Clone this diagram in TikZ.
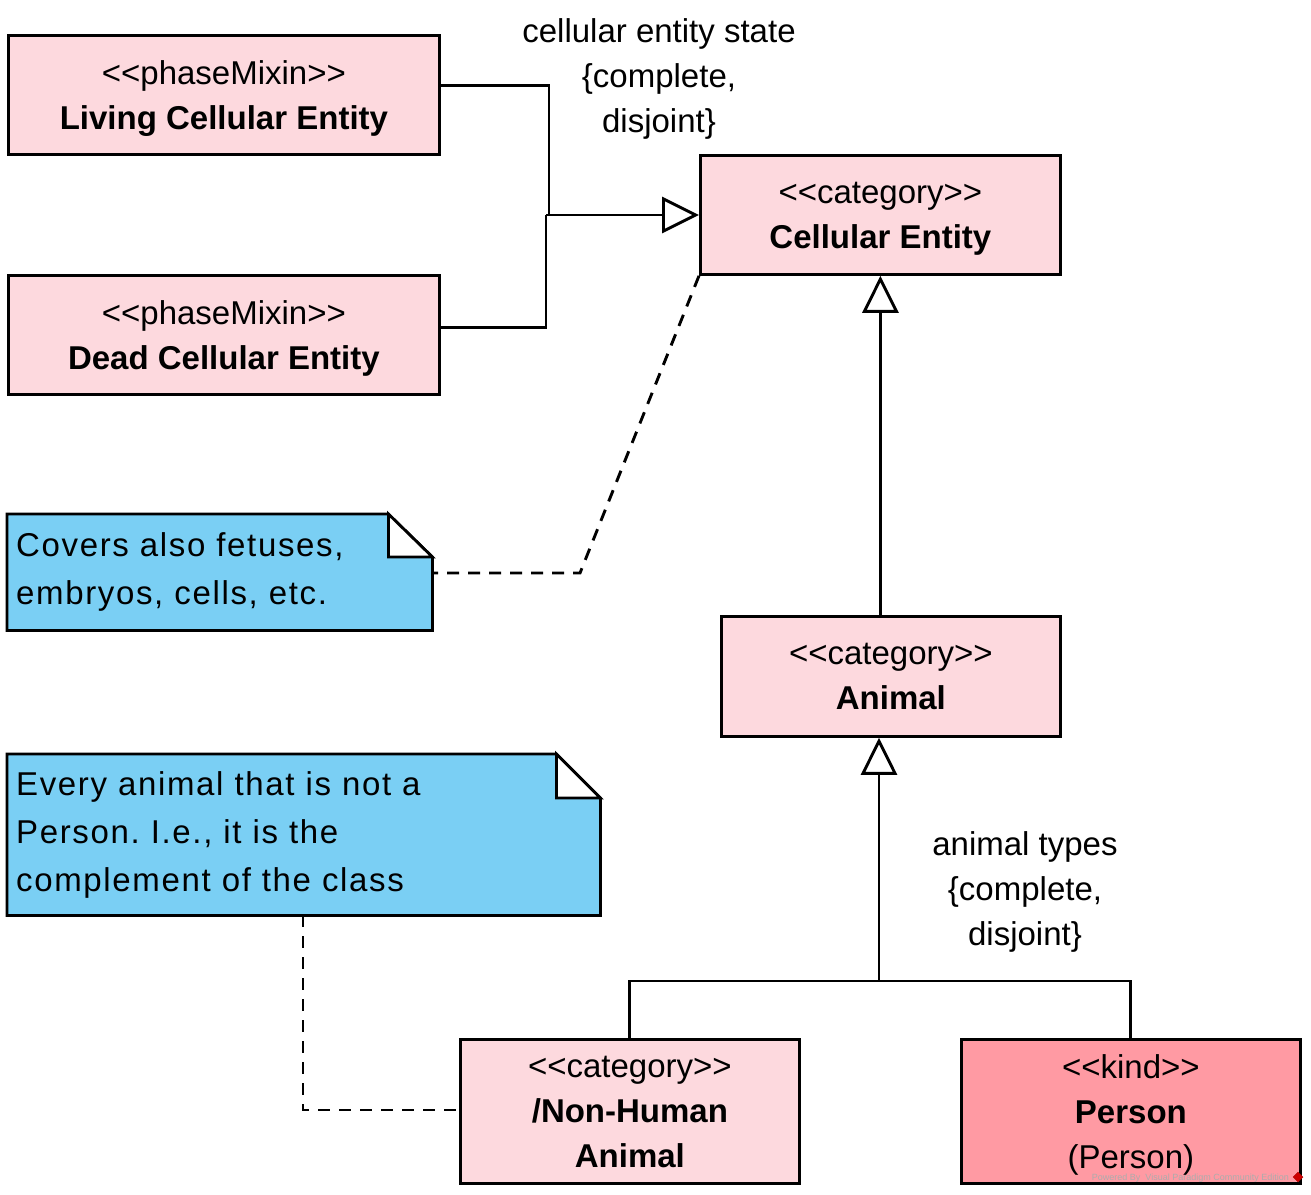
\documentclass[tikz,border=0pt]{standalone}
\usepackage{fontspec}
\setmainfont{Liberation Sans}[Ligatures=TeXOff]
\newfontfamily\notefont[LetterSpace=5,Ligatures=TeXOff]{Liberation Sans}
\usetikzlibrary{arrows.meta,backgrounds}
\definecolor{lpink}{RGB}{253,217,222}
\definecolor{dpink}{RGB}{255,154,163}
\definecolor{noteblue}{RGB}{122,207,244}
\frenchspacing
\tikzset{
  cls/.style={draw, fill=lpink, line width=2.8pt, align=center, inner sep=0pt,
    anchor=north west, text depth=0pt, font=\fontsize{33}{45}\selectfont},
  notebox/.style={anchor=north west, align=left, inner xsep=9pt, inner ysep=0pt,
    font=\notefont\fontsize{33}{48}\selectfont},
  notedraw/.style={draw, fill=noteblue, line width=2.8pt, line join=miter},
  conn/.style={draw, line width=2.9pt},
  gen/.style={conn, -{Triangle[open, length=37pt, width=36pt]}},
  dashline/.style={conn, dash pattern=on 12pt off 9pt},
  gslabel/.style={align=center, text depth=0pt, font=\fontsize{33}{45}\selectfont}
}
\begin{document}
\begin{tikzpicture}[x=1pt,y=-1pt]
\useasboundingbox (0,0) rectangle (1311,1194);
% classes
\node[cls, minimum width=431pt, minimum height=119pt] (lce) at (7,34)
  {<<phaseMixin>>\\\textbf{Living Cellular Entity}};
\node[cls, minimum width=431pt, minimum height=119pt] (dce) at (7,274)
  {<<phaseMixin>>\\\textbf{Dead Cellular Entity}};
\node[cls, minimum width=360pt, minimum height=119pt] (ce) at (699,154)
  {<<category>>\\\textbf{Cellular Entity}};
\node[cls, minimum width=339pt, minimum height=120pt] (animal) at (720,615)
  {<<category>>\\\textbf{Animal}};
\node[cls, minimum width=339pt, minimum height=144pt] (nha) at (459,1038)
  {<<category>>\\\textbf{/Non-Human}\\\textbf{Animal}};
\node[cls, fill=dpink, minimum width=339pt, minimum height=144pt] (person) at (960,1038)
  {<<kind>>\\\textbf{Person}\\(Person)};
% notes
\node[notebox, text width=407pt, minimum height=116pt] (note1) at (7,514)
  {Covers also fetuses,\\embryos, cells, etc.};
\node[notebox, text width=575pt, minimum height=161pt] (note2) at (7,754)
  {Every animal that is not a\\Person. I.e., it is the\\complement of the class};
\begin{scope}[on background layer]
  \draw[notedraw] (note1.north west) -- ([xshift=-44pt]note1.north east)
    -- ([yshift=-43pt]note1.north east) -- (note1.south east) -- (note1.south west) -- cycle;
  \draw[notedraw, fill=white] ([xshift=-44pt]note1.north east)
    -- ([xshift=-44pt,yshift=-43pt]note1.north east) -- ([yshift=-43pt]note1.north east) -- cycle;
  \draw[notedraw] (note2.north west) -- ([xshift=-44pt]note2.north east)
    -- ([yshift=-44pt]note2.north east) -- (note2.south east) -- (note2.south west) -- cycle;
  \draw[notedraw, fill=white] ([xshift=-44pt]note2.north east)
    -- ([xshift=-44pt,yshift=-44pt]note2.north east) -- ([yshift=-44pt]note2.north east) -- cycle;
\end{scope}
% generalization set labels
\node[gslabel] (gs1) at (659,76) {cellular entity state\\\{complete,\\disjoint\}};
\node[gslabel] (gs2) at (1025,889) {animal types\\\{complete,\\disjoint\}};
% connectors: cellular entity state
\coordinate (j1) at (546,215);
\draw[conn] ([yshift=9.5pt]lce.east) -| (549,215);
\draw[conn] ([yshift=7.5pt]dce.east) -| (j1);
\draw[gen] (j1) -- (ce.west |- j1);
% animal -> cellular entity
\draw[gen] (animal.north -| ce.south) -- (ce.south);
% animal types
\coordinate (j2) at (879,981);
\draw[conn] (nha.north) |- (j2) -| (person.north);
\draw[gen] (j2) -- (animal.south -| j2);
% note anchors
\coordinate (d1) at (580,573);
\draw[dashline] (ce.south west) -- (d1) -- (note1.east |- d1);
\coordinate (d2) at (303,1110);
\draw[dashline] (note2.south -| d2) -- (d2) -- (nha.west |- d2);
% watermark
\node[anchor=east, inner sep=0pt, text=gray!65, font=\fontsize{9}{10}\selectfont] (wm) at (1289,1178)
  {Powered By\ \ Visual Paradigm Community Edition};
\node[draw=red!70!black, fill=red!80!black, rotate=45, minimum size=7pt, inner sep=0pt] (logo) at (1298,1177) {};
\end{tikzpicture}
\end{document}
